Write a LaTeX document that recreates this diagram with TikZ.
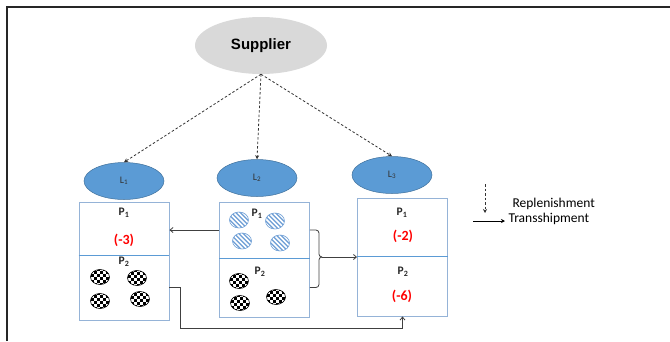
\documentclass[tikz,border=0pt]{standalone}
\usepackage{fontspec}
\setmainfont{Carlito}
\newfontfamily\arialfont{Liberation Sans}
\usetikzlibrary{arrows.meta,shapes.geometric}
\definecolor{supgray}{HTML}{D9D9D9}
\definecolor{locblue}{HTML}{5B9BD5}
\definecolor{locedge}{HTML}{41719C}
\definecolor{boxblue}{HTML}{95B3D7}
\definecolor{midblue}{HTML}{5B9BD5}
\definecolor{stripeblue}{HTML}{6F9FD6}
\definecolor{linkgray}{HTML}{404040}

\tikzset{
  % -- a product lot drawn as a small striped disc (P1) or a checkered one (P2)
  stripedot/.pic={
    \begin{scope}
      \clip (0,0) ellipse (9.5 and 8);
      \fill[stripeblue] (0,0) ellipse (9.5 and 8);
      \foreach \k in {-25,-20.5,...,25}
        \draw[white, line width=1.5pt] ({\k-12},-12) -- ({\k+12},12);
    \end{scope}
    \draw[stripeblue, line width=0.6pt] (0,0) ellipse (9.5 and 8);
  },
  checkdot/.pic={
    \begin{scope}
      \clip (0,0) ellipse (9.5 and 7.5);
      \fill[white] (-10,-8) rectangle (10,8);
      \foreach \i in {-4,...,3}
        \foreach \j in {-3,...,2}{
          \pgfmathtruncatemacro\chk{mod(\i+\j+20,2)}
          \ifnum\chk=0 \fill[black] (\i*3.2,\j*3.2) rectangle ++(3.2,3.2); \fi}
    \end{scope}
    \draw[black, line width=0.6pt] (0,0) ellipse (9.5 and 7.5);
  }
}

\begin{document}
\begin{tikzpicture}[x=1pt, y=-1pt,
  cell/.style={draw=boxblue, line width=0.9pt, minimum width=90pt, inner sep=0pt},
  loc/.style={ellipse, fill=locblue, draw=locedge, line width=0.5pt,
    minimum width=80pt, minimum height=37pt, inner sep=0pt,
    font=\fontsize{10}{11}\selectfont, text=black!80},
  plabel/.style={font=\bfseries\fontsize{11.5}{12}\selectfont, text=black!85},
  gap/.style={font=\bfseries\fontsize{14}{16}\selectfont, text=red},
  legend/.style={anchor=west, font=\fontsize{13.5}{15}\selectfont},
  link/.style={linkgray, line width=0.8pt, -{Straight Barb[length=3pt,width=5pt]}},
  supply/.style={black!80, dash pattern=on 2.5pt off 2pt, line width=0.8pt,
    -{Stealth[length=4pt,width=4pt]}}]

  \useasboundingbox (0,0) rectangle (670,341);

  % -- frame, open at the right and at the bottom
  \draw[black!85, line width=1.8pt] (7,341) -- (7,7) -- (670,7);

  % -- supplier and the three locations
  \node[ellipse, fill=supgray, minimum width=132pt, minimum height=57pt,
    font=\arialfont\bfseries\fontsize{15}{18}\selectfont] (sup) at (261,45.5) {Supplier};
  \node[loc] (L1) at (124,181) {L\textsubscript{1}};
  \node[loc] (L2) at (257,178) {L\textsubscript{2}};
  \node[loc] (L3) at (392,175) {L\textsubscript{3}};

  % -- the stock of each location, P1 above and P2 below
  \node[cell, minimum height=53pt] (L1a) at (124,228.5) {};
  \node[cell, minimum height=65pt] (L1b) at (124,287.5) {};
  \node[cell, minimum height=56pt] (L2a) at (264.5,230) {};
  \node[cell, minimum height=59pt] (L2b) at (264.5,287.5) {};
  \node[cell, minimum height=58pt] (L3a) at (402.5,227) {};
  \node[cell, minimum height=60pt] (L3b) at (402.5,286) {};
  \foreach \cellname in {L1a,L2a,L3a}
    \draw[midblue, line width=1.1pt] (\cellname.south west) -- (\cellname.south east);

  % labels and shortages
  \node[plabel] (p11) at (124,213) {P\textsubscript{1}};
  \node[gap]    (g11) at (124,240) {(-3)};
  \node[plabel] (p12) at (124,262) {P\textsubscript{2}};
  \node[plabel] (p21) at (257,214) {P\textsubscript{1}};
  \node[plabel] (p22) at (260,272) {P\textsubscript{2}};
  \node[plabel] (p31) at (402,213) {P\textsubscript{1}};
  \node[gap]    (g31) at (403,236) {(-2)};
  \node[plabel] (p32) at (403,272) {P\textsubscript{2}};
  \node[gap]    (g32) at (402,296) {(-6)};

  % surplus lots
  \foreach \x/\y in {239/220, 275/221, 242/241, 280/243}
    \pic at (\x,\y) {stripedot};
  \foreach \x/\y in {100/277, 137/278, 100/301, 140/299, 239/281, 276/297, 240/303}
    \pic at (\x,\y) {checkdot};

  % -- replenishment from the supplier
  \foreach \loc in {L1,L2,L3}
    \draw[supply] (sup.south) -- (\loc.north);

  % -- transshipments
  \draw[link] (L2a.west) -- (L2a.west -| L1a.east);
  \coordinate (brace) at (322,257);
  \draw[linkgray, line width=0.8pt, rounded corners=3pt] (L2a.east) -- ++(9,0) |- (brace);
  \draw[linkgray, line width=0.8pt, rounded corners=3pt] (L2b.east) -- ++(9,0) |- (brace);
  \draw[link] (brace) -- (brace -| L3a.west);
  \coordinate (detour) at (180,328);
  \draw[link] (L1b.east) -| (detour) -| (L3b.south);

  % -- legend
  \coordinate (rtop) at (485,184);
  \coordinate (rbot) at (485,213);
  \coordinate (ts) at (473,221);
  \coordinate (te) at (505,221);
  \draw[supply] (rtop) -- (rbot);
  \draw[black, line width=0.9pt, -{Stealth[length=4pt,width=4pt]}] (ts) -- (te);
  \node[legend] (rep) at (509,204) {Replenishment};
  \node[legend] (tra) at (505,219) {Transshipment};

\end{tikzpicture}
\end{document}
